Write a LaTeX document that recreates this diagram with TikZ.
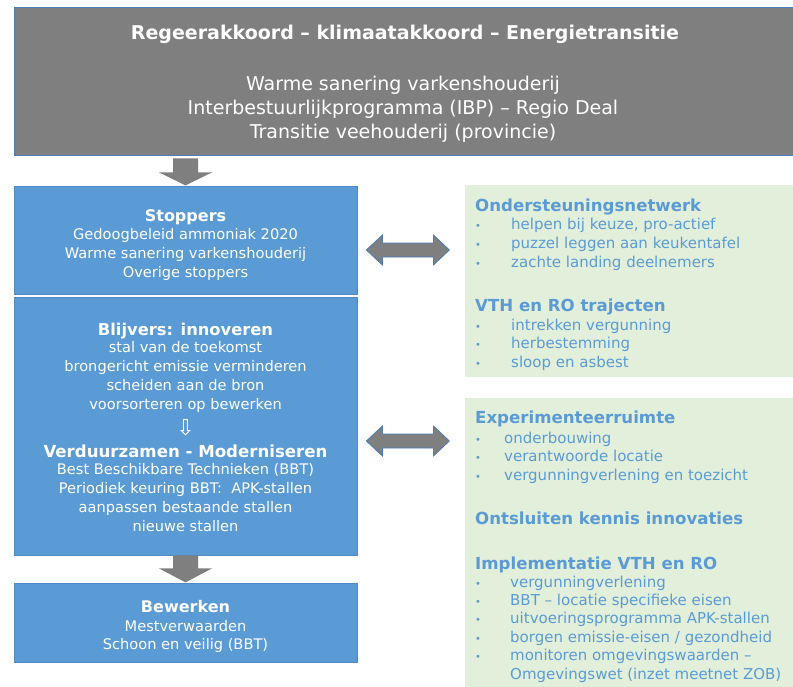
\documentclass[tikz,border=0pt]{standalone}
\usepackage{fontspec}
\setmainfont{DejaVu Sans}
\usetikzlibrary{calc}
\definecolor{topgray}{HTML}{7F7F7F}
\definecolor{boxblue}{HTML}{5B9BD5}
\definecolor{edgeblue}{HTML}{4A7EBB}
\definecolor{lightgreen}{HTML}{E2EFDA}
\definecolor{txtblue}{HTML}{5B9BD5}
\definecolor{arrgray}{HTML}{7F7F7F}
\newcommand\bitem[2]{\makebox[#1][l]{\fontsize{10}{10}\selectfont\textbullet}#2}
\begin{document}
\begin{tikzpicture}[x=1pt,y=-1pt,
  topbox/.style={draw=edgeblue, line width=0.8pt, fill=topgray, inner sep=0pt},
  bluebox/.style={draw=edgeblue!60!boxblue, line width=0.8pt, fill=boxblue, inner sep=0pt},
  greenbox/.style={fill=lightgreen, inner sep=0pt},
  toptitle/.style={text=white, font=\fontsize{19}{24}\selectfont\bfseries, anchor=base, inner sep=0pt},
  topbody/.style={text=white, font=\fontsize{19}{24}\selectfont, anchor=base, align=center, inner sep=0pt},
  wtitle/.style={text=white, font=\fontsize{16}{19}\selectfont\bfseries, anchor=base, inner sep=0pt},
  wbody/.style={text=white, font=\fontsize{14.6}{18.8}\selectfont, anchor=base, align=center, inner sep=0pt},
  gtitle/.style={text=txtblue, font=\fontsize{16.6}{19}\selectfont\bfseries, anchor=base west, inner sep=0pt},
  glist/.style={text=txtblue, font=\fontsize{15}{18.5}\selectfont, anchor=base west, align=left, inner sep=0pt},
  blockarrow/.style={fill=arrgray},
  dblarrow/.style={fill=arrgray, draw=edgeblue, line width=0.8pt, line join=miter}]
\useasboundingbox (0,0) rectangle (793,686);

% boxes
\node[topbox, minimum width=781pt, minimum height=148pt] (top) at (404.5,81) {};
\node[bluebox, minimum width=343pt, minimum height=108pt] (stoppers) at (185.5,240) {};
\node[bluebox, minimum width=343pt, minimum height=258pt] (blijvers) at (185.5,426) {};
\node[bluebox, minimum width=343pt, minimum height=79pt] (bewerken) at (185.5,622.5) {};
\node[greenbox, minimum width=330pt, minimum height=192pt] (green1) at (630,281) {};
\node[greenbox, minimum width=330pt, minimum height=290pt] (green2) at (630,543) {};

% top box text (multi-line nodes are anchored at their last baseline)
\node[toptitle] (toptitle) at (405,39) {Regeerakkoord – klimaatakkoord – Energietransitie};
\node[topbody] (topbody) at (403,138) {Warme sanering varkenshouderij\\Interbestuurlijkprogramma (IBP) – Regio Deal\\Transitie veehouderij (provincie)};

% stoppers
\node[wtitle] (stoptitle) at (185.5,221) {Stoppers};
\node[wbody, font=\fontsize{14.6}{19}\selectfont] (stopbody) at (185.5,277) {Gedoogbeleid ammoniak 2020\\Warme sanering varkenshouderij\\Overige stoppers};

% blijvers
\node[wtitle, font=\fontsize{16.3}{19}\selectfont\bfseries] (blijtitle) at (185.5,335) {Blijvers: innoveren};
\node[wbody] (blijbody) at (185.5,409) {stal van de toekomst\\brongericht emissie verminderen\\scheiden aan de bron\\voorsorteren op bewerken};
\node[wbody, font=\fontsize{22}{22}\selectfont] (blijarrow) at (185.5,435) {⇩};
\node[wtitle, font=\fontsize{16.6}{19}\selectfont\bfseries] (verdtitle) at (185.5,457) {Verduurzamen - Moderniseren};
\node[wbody] (verdbody) at (185.5,531) {Best Beschikbare Technieken (BBT)\\Periodiek keuring BBT:\ \ APK-stallen\\aanpassen bestaande stallen\\nieuwe stallen};

% bewerken
\node[wtitle] (bewtitle) at (185.5,612) {Bewerken};
\node[wbody, font=\fontsize{14.6}{18}\selectfont] (bewbody) at (185.5,649) {Mestverwaarden\\Schoon en veilig (BBT)};

% green box 1
\node[gtitle] (g1t) at (475,211) {Ondersteuningsnetwerk};
\node[glist, font=\fontsize{15}{19}\selectfont] (g1l) at (475,267) {\bitem{36pt}{helpen bij keuze, pro-actief}\\\bitem{36pt}{puzzel leggen aan keukentafel}\\\bitem{36pt}{zachte landing deelnemers}};
\node[gtitle] (g2t) at (475,311) {VTH en RO trajecten};
\node[glist] (g2l) at (475,367) {\bitem{36pt}{intrekken vergunning}\\\bitem{36pt}{herbestemming}\\\bitem{36pt}{sloop en asbest}};

% green box 2
\node[gtitle] (g3t) at (475,423) {Experimenteerruimte};
\node[glist] (g3l) at (475,480) {\bitem{29pt}{onderbouwing}\\\bitem{29pt}{verantwoorde locatie}\\\bitem{29pt}{vergunningverlening en toezicht}};
\node[gtitle] (g4t) at (475,524) {Ontsluiten kennis innovaties};
\node[gtitle] (g5t) at (475,569) {Implementatie VTH en RO};
\node[glist, font=\fontsize{15}{18.4}\selectfont] (g5l) at (475,679) {\bitem{35pt}{vergunningverlening}\\\bitem{35pt}{BBT – locatie specifieke eisen}\\\bitem{35pt}{uitvoeringsprogramma APK-stallen}\\\bitem{35pt}{borgen emissie-eisen / gezondheid}\\\bitem{35pt}{monitoren omgevingswaarden –}\\\hspace*{35pt}Omgevingswet (inzet meetnet ZOB)};

% down arrows
\coordinate (a1) at ($(stoppers.north |- top.south)+(0,3)$);
\fill[blockarrow] ($(a1)+(-12.5,0)$) -- ++(25,0) -- ++(0,14) -- ++(14,0) -- ++(-26.5,13) -- ++(-26.5,-13) -- ++(14,0) -- cycle;
\coordinate (a2) at (blijvers.south);
\fill[blockarrow] ($(a2)+(-12.5,0)$) -- ++(25,0) -- ++(0,13) -- ++(14,0) -- ++(-26.5,14) -- ++(-26.5,-14) -- ++(14,0) -- cycle;

% double arrows
\coordinate (d1) at ($(stoppers.east)+(9,10)$);
\coordinate (d2) at ($(blijvers.east)+(9,15)$);
\foreach \d in {d1,d2}{
  \filldraw[dblarrow] (\d) -- ++(16,-15) -- ++(0,8) -- ++(51,0) -- ++(0,-8) -- ++(16,15) -- ++(-16,15) -- ++(0,-8) -- ++(-51,0) -- ++(0,8) -- cycle;
}
\end{tikzpicture}
\end{document}
